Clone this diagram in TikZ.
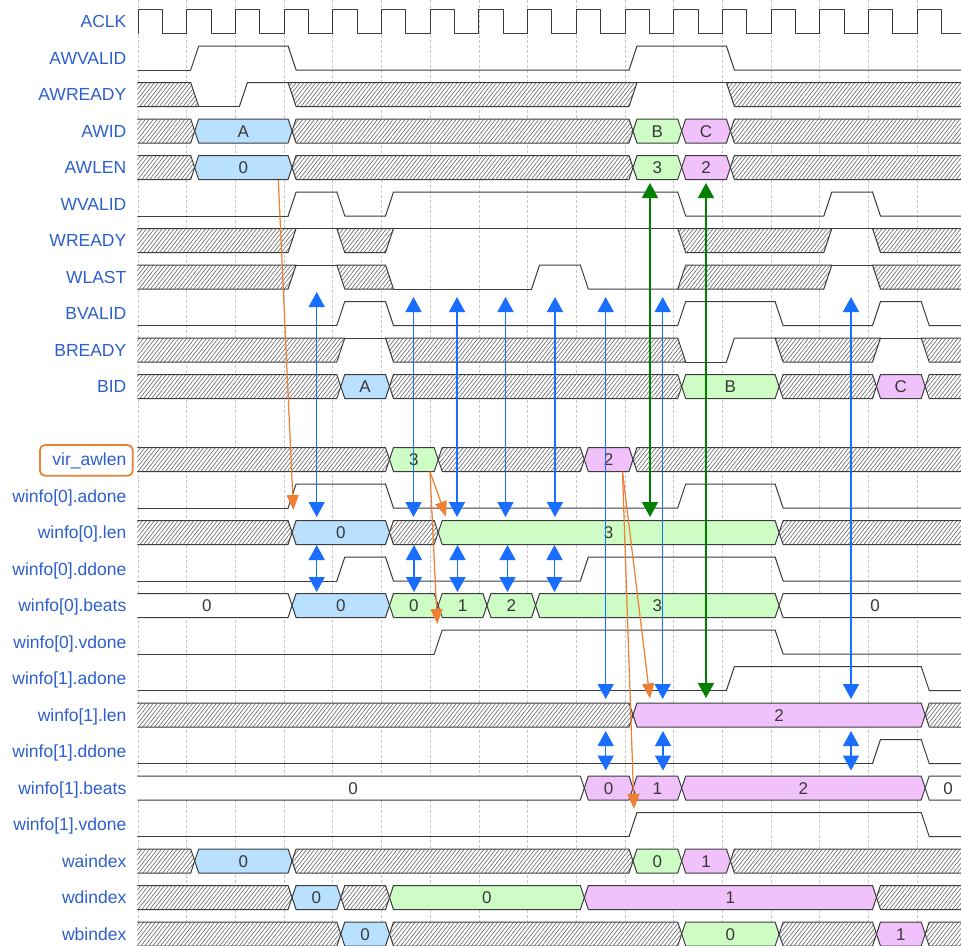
\documentclass[tikz,border=0pt]{standalone}
\usepackage{fontspec}
\setmainfont{Liberation Sans}
\usetikzlibrary{patterns.meta,arrows.meta}
\definecolor{lblc}{HTML}{2D5FCD}
\definecolor{wavc}{HTML}{3C3C3C}
\definecolor{dblue}{HTML}{B9E0FF}
\definecolor{dgreen}{HTML}{CDFDC5}
\definecolor{dpink}{HTML}{F0C1FB}
\definecolor{arrb}{HTML}{1A6EFF}
\definecolor{arrg}{HTML}{008000}
\definecolor{arro}{HTML}{EF7F32}
\definecolor{gridc}{HTML}{C8C8C8}
\tikzset{
  segline/.style={draw=wavc,line width=1pt,line join=round},
  wline/.style={draw=wavc,line width=1pt,line cap=round,line join=round},
  xs/.style={preaction={fill=white},pattern={Lines[angle=52,distance=3.1pt,line width=0.65pt]},pattern color=black!58},
  gridline/.style={draw=gridc,line width=0.7pt,dash pattern=on 2.5pt off 2.5pt},
  vallbl/.style={font=\fontsize{17}{20}\selectfont,text=black!78,anchor=base,inner sep=0pt},
  siglbl/.style={font=\fontsize{17.5}{20}\selectfont,text=lblc,anchor=base east,inner sep=0pt},
  bigtip/.tip={Triangle[width=16pt,length=15pt]},
  otip/.tip={Triangle[width=12pt,length=15pt]},
  barr/.style={draw=arrb,fill=arrb,line width=1.5pt,bigtip-bigtip},
  garr/.style={draw=arrg,fill=arrg,line width=1.5pt,bigtip-bigtip},
  oarr/.style={draw=arro,fill=arro,line width=1.2pt,-otip},
  obox/.style={draw=arro,line width=1.8pt,rounded corners=5pt}
}
\newcount\segn
\newcommand\seg[7]{%
  \pgfmathsetmacro\wYt{9.5+36.5*#1}%
  \pgfmathsetmacro\wYb{\wYt+24}%
  \pgfmathsetmacro\wYm{\wYt+12}%
  \pgfmathsetmacro\wSl{142+48.7*#2}%
  \pgfmathsetmacro\wSr{142+48.7*#3}%
  \pgfmathsetmacro\wSlT{\wSl+8}%
  \pgfmathsetmacro\wSlM{\wSl+4}%
  \pgfmathsetmacro\wSrT{\wSr+8}%
  \pgfmathsetmacro\wSrM{\wSr+4}%
  \pgfmathsetmacro\wCx{(\wSl+\wSr)/2+4}%
  \pgfmathsetmacro\wBase{\wYm+6.1}%
  \def\wLmid{}\def\wRmid{}%
  \if#4v\def\wTL{130}\def\wBL{130}\fi
  \if#4p\let\wTL\wSlT\let\wBL\wSlT\def\wLmid{-- (\wSlM,\wYm)}\fi
  \if#4u\let\wTL\wSlT\let\wBL\wSl\fi
  \if#4d\let\wTL\wSl\let\wBL\wSlT\fi
  \if#5v\def\wTR{970}\def\wBR{970}\fi
  \if#5p\let\wTR\wSr\let\wBR\wSr\def\wRmid{-- (\wSrM,\wYm)}\fi
  \if#5u\let\wTR\wSrT\let\wBR\wSr\fi
  \if#5d\let\wTR\wSr\let\wBR\wSrT\fi
  \path[segline,#6] (\wTL,\wYt) -- (\wTR,\wYt) \wRmid -- (\wBR,\wYb) -- (\wBL,\wYb) \wLmid -- cycle;
  \def\wTmp{#7}%
  \ifx\wTmp\empty\else
    \global\advance\segn by 1
    \node[vallbl] (val\the\segn) at (\wCx,\wBase) {#7};
  \fi
}
\newcommand\lvl[6]{%
  \pgfmathsetmacro\wYt{9.5+36.5*#1}%
  \pgfmathsetmacro\wYb{\wYt+24}%
  \pgfmathsetmacro\wSl{142+48.7*#2}%
  \pgfmathsetmacro\wSlT{\wSl+8}%
  \pgfmathsetmacro\wSr{142+48.7*#3}%
  \ifnum#4=1 \let\wYy\wYt\let\wYo\wYb\else\let\wYy\wYb\let\wYo\wYt\fi
  \if#5v\def\wLx{130}\else\let\wLx\wSlT\fi
  \if#6v\def\wRx{970}\else\let\wRx\wSr\fi
  \if#5t\draw[wline] (\wSl,\wYo) -- (\wLx,\wYy) -- (\wRx,\wYy);%
  \else\draw[wline] (\wLx,\wYy) -- (\wRx,\wYy);\fi
}
\begin{document}
\begin{tikzpicture}[x=1pt,y=-1pt]
\useasboundingbox (0,0) rectangle (961,945);
\fill[white] (0,0) rectangle (961,945);
% grid
\foreach \k in {0,...,16} \draw[gridline] ({138+48.7*\k},0) -- ({138+48.7*\k},945);
% signal names
\foreach \r/\t in {0/ACLK,1/AWVALID,2/AWREADY,3/AWID,4/AWLEN,5/WVALID,6/WREADY,7/WLAST,8/BVALID,9/BREADY,10/BID,12/{vir\_awlen},13/{winfo[0].adone},14/{winfo[0].len},15/{winfo[0].ddone},16/{winfo[0].beats},17/{winfo[0].vdone},18/{winfo[1].adone},19/{winfo[1].len},20/{winfo[1].ddone},21/{winfo[1].beats},22/{winfo[1].vdone},23/waindex,24/wdindex,25/wbindex}
  \node[siglbl] (lbl\r) at (126.5,{9.5+36.5*\r+12+6.3}) {\t};
\draw[obox] (40,445) rectangle (132.7,475.7);
\begin{scope}
\clip (137.4,0) rectangle (961,945);
% ACLK
\foreach \k in {0,...,16}
  \draw[wline] ({138+48.7*\k},33.5) -- ({138+48.7*\k},9.5) -- ({162.35+48.7*\k},9.5) -- ({162.35+48.7*\k},33.5) -- ({186.7+48.7*\k},33.5);
% AWVALID
\lvl{1}{0}{1}{0}{v}{n}
\lvl{1}{1}{3}{1}{t}{n}
\lvl{1}{3}{10}{0}{t}{n}
\lvl{1}{10}{12}{1}{t}{n}
\lvl{1}{12}{17}{0}{t}{v}
% AWREADY
\seg{2}{-0.5}{1}{v}{d}{xs}{}
\lvl{2}{1}{2}{0}{x}{n}
\lvl{2}{2}{3}{1}{t}{n}
\seg{2}{3}{10}{d}{u}{xs}{}
\lvl{2}{10}{12}{1}{x}{n}
\seg{2}{12}{16.94}{d}{v}{xs}{}
% AWID
\seg{3}{-0.5}{1}{v}{p}{xs}{}
\seg{3}{1}{3}{p}{p}{fill=dblue}{A}
\seg{3}{3}{10}{p}{p}{xs}{}
\seg{3}{10}{11}{p}{p}{fill=dgreen}{B}
\seg{3}{11}{12}{p}{p}{fill=dpink}{C}
\seg{3}{12}{16.94}{p}{v}{xs}{}
% AWLEN
\seg{4}{-0.5}{1}{v}{p}{xs}{}
\seg{4}{1}{3}{p}{p}{fill=dblue}{0}
\seg{4}{3}{10}{p}{p}{xs}{}
\seg{4}{10}{11}{p}{p}{fill=dgreen}{3}
\seg{4}{11}{12}{p}{p}{fill=dpink}{2}
\seg{4}{12}{16.94}{p}{v}{xs}{}
% WVALID
\lvl{5}{0}{3}{0}{v}{n}
\lvl{5}{3}{4}{1}{t}{n}
\lvl{5}{4}{5}{0}{t}{n}
\lvl{5}{5}{11}{1}{t}{n}
\lvl{5}{11}{14}{0}{t}{n}
\lvl{5}{14}{15}{1}{t}{n}
\lvl{5}{15}{17}{0}{t}{v}
% WREADY
\seg{6}{-0.5}{3}{v}{u}{xs}{}
\lvl{6}{3}{4}{1}{x}{n}
\seg{6}{4}{5}{d}{u}{xs}{}
\lvl{6}{5}{11}{1}{x}{n}
\seg{6}{11}{14}{d}{u}{xs}{}
\lvl{6}{14}{15}{1}{x}{n}
\seg{6}{15}{16.94}{d}{v}{xs}{}
% WLAST
\seg{7}{-0.5}{3}{v}{u}{xs}{}
\lvl{7}{3}{4}{1}{x}{n}
\seg{7}{4}{5}{d}{d}{xs}{}
\lvl{7}{5}{8}{0}{x}{n}
\lvl{7}{8}{9}{1}{t}{n}
\lvl{7}{9}{11}{0}{t}{n}
\seg{7}{11}{14}{u}{u}{xs}{}
\lvl{7}{14}{15}{1}{x}{n}
\seg{7}{15}{16.94}{d}{v}{xs}{}
% BVALID
\lvl{8}{0}{4}{0}{v}{n}
\lvl{8}{4}{5}{1}{t}{n}
\lvl{8}{5}{11}{0}{t}{n}
\lvl{8}{11}{13}{1}{t}{n}
\lvl{8}{13}{15}{0}{t}{n}
\lvl{8}{15}{16}{1}{t}{n}
\lvl{8}{16}{17}{0}{t}{v}
% BREADY
\seg{9}{-0.5}{4}{v}{u}{xs}{}
\lvl{9}{4}{5}{1}{x}{n}
\seg{9}{5}{11}{d}{d}{xs}{}
\lvl{9}{11}{12}{0}{x}{n}
\lvl{9}{12}{13}{1}{t}{n}
\seg{9}{13}{15}{d}{u}{xs}{}
\lvl{9}{15}{16}{1}{x}{n}
\seg{9}{16}{16.94}{d}{v}{xs}{}
% BID
\seg{10}{-0.5}{4}{v}{p}{xs}{}
\seg{10}{4}{5}{p}{p}{fill=dblue}{A}
\seg{10}{5}{11}{p}{p}{xs}{}
\seg{10}{11}{13}{p}{p}{fill=dgreen}{B}
\seg{10}{13}{15}{p}{p}{xs}{}
\seg{10}{15}{16}{p}{p}{fill=dpink}{C}
\seg{10}{16}{16.94}{p}{v}{xs}{}
% vir_awlen
\seg{12}{-0.5}{5}{v}{p}{xs}{}
\seg{12}{5}{6}{p}{p}{fill=dgreen}{3}
\seg{12}{6}{9}{p}{p}{xs}{}
\seg{12}{9}{10}{p}{p}{fill=dpink}{2}
\seg{12}{10}{16.94}{p}{v}{xs}{}
% winfo[0].adone
\lvl{13}{0}{3}{0}{v}{n}
\lvl{13}{3}{5}{1}{t}{n}
\lvl{13}{5}{11}{0}{t}{n}
\lvl{13}{11}{13}{1}{t}{n}
\lvl{13}{13}{17}{0}{t}{v}
% winfo[0].len
\seg{14}{-0.5}{3}{v}{p}{xs}{}
\seg{14}{3}{5}{p}{p}{fill=dblue}{0}
\seg{14}{5}{6}{p}{p}{xs}{}
\seg{14}{6}{13}{p}{p}{fill=dgreen}{3}
\seg{14}{13}{16.94}{p}{v}{xs}{}
% winfo[0].ddone
\lvl{15}{0}{4}{0}{v}{n}
\lvl{15}{4}{5}{1}{t}{n}
\lvl{15}{5}{9}{0}{t}{n}
\lvl{15}{9}{13}{1}{t}{n}
\lvl{15}{13}{17}{0}{t}{v}
% winfo[0].beats
\seg{16}{-0.5}{3}{v}{p}{fill=white}{0}
\seg{16}{3}{5}{p}{p}{fill=dblue}{0}
\seg{16}{5}{6}{p}{p}{fill=dgreen}{0}
\seg{16}{6}{7}{p}{p}{fill=dgreen}{1}
\seg{16}{7}{8}{p}{p}{fill=dgreen}{2}
\seg{16}{8}{13}{p}{p}{fill=dgreen}{3}
\seg{16}{13}{16.94}{p}{v}{fill=white}{0}
% winfo[0].vdone
\lvl{17}{0}{6}{0}{v}{n}
\lvl{17}{6}{13}{1}{t}{n}
\lvl{17}{13}{17}{0}{t}{v}
% winfo[1].adone
\lvl{18}{0}{12}{0}{v}{n}
\lvl{18}{12}{16}{1}{t}{n}
\lvl{18}{16}{17}{0}{t}{v}
% winfo[1].len
\seg{19}{-0.5}{10}{v}{p}{xs}{}
\seg{19}{10}{16}{p}{p}{fill=dpink}{2}
\seg{19}{16}{16.94}{p}{v}{xs}{}
% winfo[1].ddone
\lvl{20}{0}{15}{0}{v}{n}
\lvl{20}{15}{16}{1}{t}{n}
\lvl{20}{16}{17}{0}{t}{v}
% winfo[1].beats
\seg{21}{-0.5}{9}{v}{p}{fill=white}{0}
\seg{21}{9}{10}{p}{p}{fill=dpink}{0}
\seg{21}{10}{11}{p}{p}{fill=dpink}{1}
\seg{21}{11}{16}{p}{p}{fill=dpink}{2}
\seg{21}{16}{16.94}{p}{v}{fill=white}{0}
% winfo[1].vdone
\lvl{22}{0}{10}{0}{v}{n}
\lvl{22}{10}{16}{1}{t}{n}
\lvl{22}{16}{17}{0}{t}{v}
% waindex
\seg{23}{-0.5}{1}{v}{p}{xs}{}
\seg{23}{1}{3}{p}{p}{fill=dblue}{0}
\seg{23}{3}{10}{p}{p}{xs}{}
\seg{23}{10}{11}{p}{p}{fill=dgreen}{0}
\seg{23}{11}{12}{p}{p}{fill=dpink}{1}
\seg{23}{12}{16.94}{p}{v}{xs}{}
% wdindex
\seg{24}{-0.5}{3}{v}{p}{xs}{}
\seg{24}{3}{4}{p}{p}{fill=dblue}{0}
\seg{24}{4}{5}{p}{p}{xs}{}
\seg{24}{5}{9}{p}{p}{fill=dgreen}{0}
\seg{24}{9}{15}{p}{p}{fill=dpink}{1}
\seg{24}{15}{16.94}{p}{v}{xs}{}
% wbindex
\seg{25}{-0.5}{4}{v}{p}{xs}{}
\seg{25}{4}{5}{p}{p}{fill=dblue}{0}
\seg{25}{5}{11}{p}{p}{xs}{}
\seg{25}{11}{13}{p}{p}{fill=dgreen}{0}
\seg{25}{13}{15}{p}{p}{xs}{}
\seg{25}{15}{16}{p}{p}{fill=dpink}{1}
\seg{25}{16}{16.94}{p}{v}{xs}{}
\end{scope}
% blue long arrows
\foreach \n/\x/\t/\b in {1/316.7/292/517,2/413.5/297/517,3/457/297/517,4/505.5/297/517,5/555/297/517,6/605.7/297/699,7/662.7/297/699,8/851/297/699}{
  \coordinate (bt\n) at (\x,\t);
  \coordinate (bb\n) at (\x,\b);
  \draw[barr] (bt\n) -- (bb\n);
}
% blue short arrows
\foreach \n/\x/\t/\b in {1/316.7/545/592,2/414/545/592,3/457.5/545/592,4/507.5/545/592,5/554.5/545/592,6/605.7/731/770.5,7/663/731/770.5,8/851/731/770.5}{
  \coordinate (st\n) at (\x,\t);
  \coordinate (sb\n) at (\x,\b);
  \draw[barr] (st\n) -- (sb\n);
}
% green arrows
\coordinate (gt1) at (650,183); \coordinate (gb1) at (650,517);
\coordinate (gt2) at (706,183); \coordinate (gb2) at (706,698);
\draw[garr] (gt1) -- (gb1);
\draw[garr] (gt2) -- (gb2);
% orange arrows
\coordinate (oas) at (278.3,180); \coordinate (oae) at (293.4,510);
\coordinate (o3s) at (430,471.7); \coordinate (o3a) at (446,516.5); \coordinate (o3b) at (437.3,624);
\coordinate (o2s) at (622.5,471.7); \coordinate (o2a) at (650,698.5); \coordinate (o2b) at (634,809);
\draw[oarr] (oas) -- (oae);
\draw[oarr] (o3s) -- (o3a);
\draw[oarr] (o3s) -- (o3b);
\draw[oarr] (o2s) -- (o2a);
\draw[oarr] (o2s) -- (o2b);
\end{tikzpicture}
\end{document}
